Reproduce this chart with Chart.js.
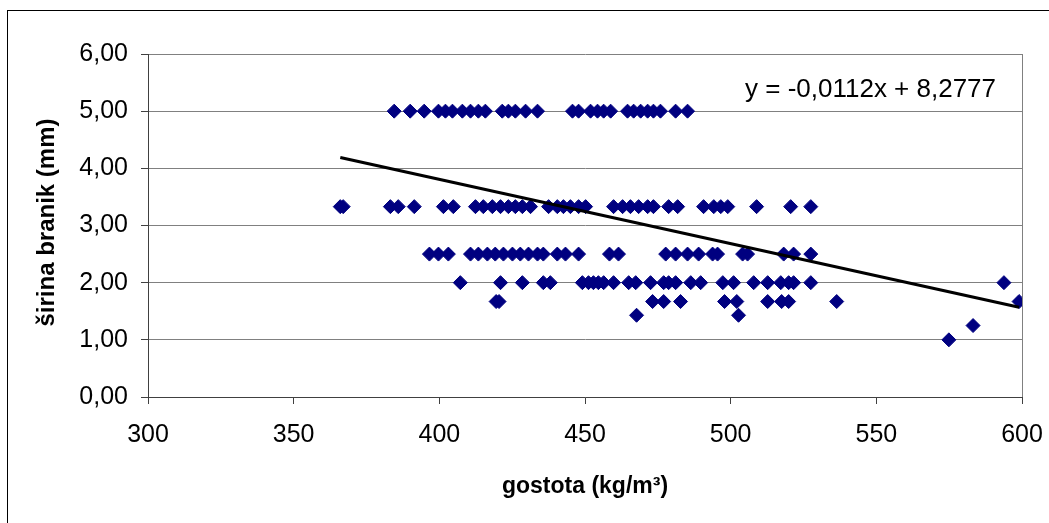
<!DOCTYPE html>
<html>
<head>
<meta charset="utf-8">
<script src="https://cdn.jsdelivr.net/npm/chart.js@4/dist/chart.umd.min.js"></script>
<style>
  html, body { margin: 0; padding: 0; background: #fff; }
  #wrap { width: 1049px; height: 523px; position: relative; }
</style>
</head>
<body>
<div id="wrap"><canvas id="c" width="1049" height="523"></canvas></div>
<script>
// ---- data ----
const xTicks = [300, 350, 400, 450, 500, 550, 600];
const yTicks = [0, 1, 2, 3, 4, 5, 6];

// gostota (kg/m3) values for each širina branik level (mm)
const x_5_00 = [384.5, 390.0, 394.8, 399.7, 402.1, 404.5, 407.9, 410.7, 413.4, 415.8, 421.6, 423.7, 426.1, 429.6, 433.7, 445.7, 447.8, 451.9, 454.3, 456.4, 458.8, 464.6, 466.7, 469.1, 471.5, 473.5, 475.9, 481.1, 485.2];
const x_3_33 = [366.0, 367.0, 383.2, 385.9, 391.4, 401.4, 404.8, 412.4, 415.1, 418.2, 421.0, 423.7, 426.1, 428.5, 431.3, 437.5, 440.5, 442.6, 445.0, 447.8, 450.2, 459.8, 462.9, 465.6, 468.4, 471.5, 473.5, 478.7, 481.8, 490.7, 494.2, 496.6, 499.0, 508.9, 520.6, 527.5];
const x_2_50 = [396.6, 399.7, 403.1, 410.7, 413.4, 416.5, 419.2, 422.0, 425.1, 427.8, 430.6, 433.7, 435.7, 440.5, 443.3, 447.8, 458.4, 461.5, 477.7, 481.1, 485.2, 489.0, 493.8, 495.5, 504.1, 505.8, 518.2, 521.6, 527.5];
const x_2_00 = [407.2, 421.0, 428.5, 435.7, 438.1, 449.1, 451.2, 452.9, 454.6, 456.4, 459.8, 465.0, 467.4, 472.5, 477.0, 478.7, 481.1, 486.3, 489.7, 497.3, 501.0, 507.9, 512.7, 517.2, 519.9, 521.6, 527.5, 593.8];
const x_1_67 = [419.5, 420.5, 473.2, 477.0, 482.8, 497.9, 502.1, 512.7, 517.5, 519.9, 536.4, 599.0];
const x_1_43 = [467.7, 502.7];
const x_1_25 = [583.2];
const x_1_00 = [574.9];

const levels = [5.00, 3.33, 2.50, 2.00, 1.67, 1.43, 1.25, 1.00];
const levelX = [x_5_00, x_3_33, x_2_50, x_2_00, x_1_67, x_1_43, x_1_25, x_1_00];

// trendline endpoints as drawn in the reference
const trendX = [366, 599];
const trendY = [4.19, 1.57];
const equationText = 'y = -0,0112x + 8,2777';
const xTitle = 'gostota (kg/m\u00B3)';
const yTitle = 'širina branik (mm)';

// ---- build ----
const points = [];
levels.forEach((lv, i) => levelX[i].forEach(x => points.push({ x: x, y: lv })));
const trend = trendX.map((x, i) => ({ x: x, y: trendY[i] }));

const FONT = '"Liberation Sans", Arial, sans-serif';
const fmt = v => Number(v).toFixed(2).replace('.', ',');

const extras = {
  id: 'extras',
  beforeDatasetsDraw(chart) {
    const { ctx, chartArea: a } = chart;
    ctx.save();
    ctx.strokeStyle = '#808080';
    ctx.lineWidth = 1;
    ctx.beginPath();
    ctx.moveTo(Math.round(a.right) + 0.5, a.top);
    ctx.lineTo(Math.round(a.right) + 0.5, a.bottom);
    ctx.stroke();
    ctx.restore();
  },
  afterDraw(chart) {
    const { ctx, chartArea: a } = chart;
    ctx.save();
    // outer frame
    ctx.strokeStyle = '#000';
    ctx.lineWidth = 1;
    ctx.strokeRect(7.5, 10.5, 1200, 700);
    // equation
    ctx.fillStyle = '#000';
    ctx.font = '26px ' + FONT;
    ctx.textBaseline = 'middle';
    ctx.textAlign = 'left';
    ctx.fillText(equationText, 745, 90);
    // x title
    ctx.font = 'bold 23px ' + FONT;
    ctx.textAlign = 'center';
    ctx.fillText(xTitle, (a.left + a.right) / 2, 487);
    // y title
    ctx.font = 'bold 24px ' + FONT;
    ctx.translate(47, (a.top + a.bottom) / 2 - 3);
    ctx.rotate(-Math.PI / 2);
    ctx.fillText(yTitle, 0, 0);
    ctx.restore();
  }
};

new Chart(document.getElementById('c'), {
  type: 'scatter',
  data: {
    datasets: [
      {
        type: 'line',
        data: trend,
        borderColor: '#000',
        borderWidth: 3,
        pointRadius: 0,
        fill: false,
        order: 0
      },
      {
        data: points,
        pointStyle: 'rectRot',
        pointRadius: 7,
        pointHoverRadius: 7,
        backgroundColor: '#000080',
        borderColor: '#000080',
        borderWidth: 1,
        order: 1
      }
    ]
  },
  options: {
    responsive: false,
    animation: false,
    events: [],
    layout: { padding: { top: 54, right: 27, left: 0, bottom: 0 } },
    plugins: { legend: { display: false }, tooltip: { enabled: false }, title: { display: false } },
    scales: {
      x: {
        type: 'linear',
        min: 300, max: 600,
        afterBuildTicks: s => { s.ticks = xTicks.map(v => ({ value: v })); },
        afterFit: s => { s.height = 126; s.paddingLeft = 0; s.paddingRight = 0; },
        grid: { drawOnChartArea: false, drawTicks: true, tickLength: 7, tickColor: '#404040' },
        border: { display: true, color: '#404040', width: 1 },
        ticks: { color: '#000', font: { family: FONT, size: 25 }, padding: 16, maxRotation: 0, callback: v => String(v) }
      },
      y: {
        type: 'linear',
        min: 0, max: 6,
        afterBuildTicks: s => { s.ticks = yTicks.map(v => ({ value: v })); },
        afterFit: s => { s.width = 148; s.paddingTop = 0; s.paddingBottom = 0; },
        grid: { drawOnChartArea: true, color: '#808080', drawTicks: true, tickLength: 7, tickColor: '#404040' },
        border: { display: true, color: '#404040', width: 1 },
        ticks: { color: '#000', font: { family: FONT, size: 25 }, padding: 13, callback: v => fmt(v) }
      }
    }
  },
  plugins: [extras]
});
</script>
</body>
</html>
